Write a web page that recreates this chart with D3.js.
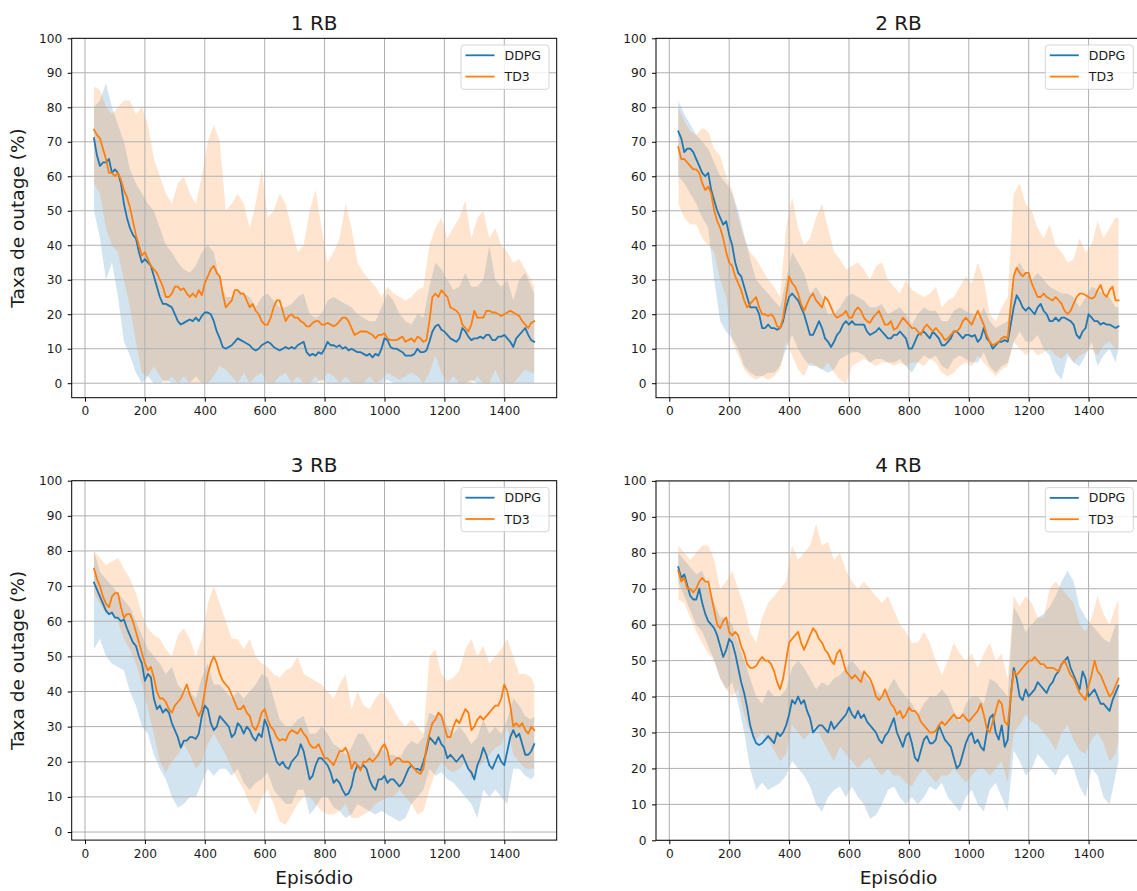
<!DOCTYPE html>
<html>
<head>
<meta charset="utf-8">
<script src="https://cdn.jsdelivr.net/npm/d3@7"></script>
<style>
  html, body { margin: 0; padding: 0; background: #ffffff; }
  svg { display: block; }
  text { font-family: "DejaVu Sans", sans-serif; fill: #1a1a1a; }
</style>
</head>
<body>
<svg id="chart" width="1137" height="891"></svg>
<script>
// ---- tick labels & series names ----
const xTicks = [0, 200, 400, 600, 800, 1000, 1200, 1400];
const yTicks = [0, 10, 20, 30, 40, 50, 60, 70, 80, 90, 100];
const seriesNames = ["DDPG", "TD3"];
const panelTitles = ["1 RB", "2 RB", "3 RB", "4 RB"];

// episodes of the smoothed curves (every 10) and of the spread bands (every 20)
const episodes = d3.range(30, 1501, 10);
const bandEpisodes = d3.range(30, 1500, 20).concat([1500]);

// ---- 1 RB ----
const rb1Ddpg = [
  71, 66, 63, 64, 64, 65, 61, 62, 61, 58,
  52, 48, 45, 43, 42, 38, 35, 36, 35, 34,
  31, 28, 25, 23, 23, 22.5, 22, 20, 18, 17,
  17.5, 18, 18.5, 18, 19, 18, 19.5, 20.5, 20.5, 20,
  18, 15, 13, 10.5, 10, 10.5, 11, 12, 13, 12.5,
  12, 11.5, 11, 10, 9.5, 10, 11, 11.5, 12, 11.5,
  10.5, 10, 9.5, 10, 10.5, 10, 10.5, 10, 11, 11.5,
  12, 9, 8, 8.5, 8, 9, 8.5, 10, 12, 11,
  11, 10.5, 11, 10, 10.5, 9.5, 10, 9.5, 9, 9,
  8.5, 8, 8.5, 7.5, 8.5, 8, 10, 13, 12.5, 10.5,
  10, 10, 9.5, 9, 8, 8, 8, 8.5, 10, 9,
  9, 9.5, 12, 15, 16.5, 17, 15.5, 15, 14, 13,
  12.5, 12, 13, 16, 15, 13.5, 12.5, 13, 13, 13.5,
  13, 14, 14, 12.5, 12.5, 13.5, 13.5, 14, 13, 12,
  10.5, 13, 14, 15, 16, 14, 12.5, 12
];
const rb1Td3 = [
  73.5, 72, 71, 68, 65, 61, 61, 60, 61, 59,
  56, 54, 51, 47, 43, 40, 37, 38, 36, 34,
  33, 32, 30, 28, 25, 25, 26, 28, 28, 27,
  27.5, 26, 25, 26, 25, 27, 25.5, 29, 31, 33,
  34, 32, 31, 26, 22, 23, 24, 27, 27, 26,
  26, 24, 22, 23, 21, 20, 18, 17, 17, 19,
  22, 24, 24, 21, 18, 19.5, 20, 19, 19, 18,
  17.5, 16.5, 16.5, 17.5, 18, 18, 17, 17, 17.5, 17,
  16.5, 17, 18, 19, 19, 18, 16, 14, 14.5, 15,
  15, 15, 14.5, 14, 13, 14, 14, 14.5, 13, 12.5,
  12.5, 12.5, 13, 13.5, 12, 12.5, 13, 12, 13.5, 13,
  12, 12.5, 18, 25, 26, 25, 27, 26, 25, 22,
  21.5, 21, 20, 17, 16, 15, 17, 21, 19, 19,
  19, 21, 21, 20.5, 20.5, 20, 19.5, 20, 20.5, 21,
  20.5, 20, 19.5, 18, 17, 16, 17.5, 18
];
const rb1DdpgHigh = [
  80, 82, 87, 80, 75, 70, 62, 58, 55, 52,
  50, 45, 40, 38, 35, 33, 32, 34, 38, 40,
  38, 30, 25, 25, 27, 26, 25, 22, 25, 26,
  24, 22, 22, 23, 25, 26, 20, 19, 20, 24,
  25, 24, 23, 22, 20, 19, 18, 18, 22, 26,
  24, 20, 18, 17, 20, 19, 28, 35, 33, 30,
  27, 28, 32, 28, 28, 30, 40, 30, 28, 30,
  24, 30, 32, 28, 26
];
const rb1DdpgLow = [
  50, 42, 30, 35, 25, 12, 8, 3, 0, 2,
  0, 0, 1, 0, 0, 0, 0, 2, 0, 0,
  0, 0, 0, 0, 0, 0, 0, 0, 0, 0,
  0, 0, 0, 0, 0, 0, 0, 0, 1, 0,
  0, 0, 0, 0, 0, 0, 0, 0, 0, 1,
  0, 0, 0, 0, 0, 0, 0, 0, 0, 0,
  0, 0, 0, 1, 0, 0, 0, 0, 0, 0,
  0, 0, 0, 0, 0
];
const rb1Td3High = [
  86, 85, 80, 78, 80, 82, 82, 78, 80, 75,
  65, 60, 55, 52, 58, 60, 55, 52, 60, 70,
  75, 70, 50, 52, 55, 52, 45, 52, 62, 48,
  50, 55, 52, 45, 38, 40, 50, 56, 45, 35,
  38, 42, 52, 45, 35, 32, 30, 28, 25, 28,
  26, 25, 24, 25, 27, 28, 40, 45, 48, 42,
  45, 48, 53, 42, 48, 50, 42, 45, 40, 38,
  35, 36, 33, 30, 28
];
const rb1Td3Low = [
  58, 55, 45, 40, 38, 30, 22, 12, 3, 2,
  5, 2, 0, 2, 0, 2, 0, 0, 0, 0,
  2, 5, 4, 2, 0, 3, 0, 2, 3, 0,
  0, 2, 3, 0, 2, 0, 0, 2, 0, 3,
  2, 0, 2, 0, 0, 0, 2, 0, 1, 3,
  2, 1, 2, 3, 2, 0, 3, 8, 3, 0,
  2, 0, 0, 0, 2, 0, 0, 4, 0, 0,
  0, 2, 4, 3, 3
];

// ---- 2 RB ----
const rb2Ddpg = [
  73, 71, 67, 68, 68, 67, 65, 63, 61, 60,
  61, 56, 53, 50, 48, 46, 47, 43, 40, 35,
  32, 31, 28, 25, 22, 22, 22, 20, 16, 16,
  17, 16, 16, 15.5, 16, 18, 22, 25, 26, 25,
  24, 22, 20, 17, 14, 14, 16, 18, 16, 13,
  12, 10.5, 12, 14, 15, 17, 18, 17, 18, 17,
  17, 17, 17, 15, 14, 14.5, 15, 16, 15, 14,
  13, 13, 14, 14, 15, 14, 13, 10, 10, 12,
  14, 14.5, 15, 14, 13, 15, 14, 13, 11, 11,
  12, 13, 15, 15, 14, 13, 14, 14, 13.5, 14,
  12, 13, 16, 13, 12, 10, 11, 12, 12, 12.5,
  12, 17, 22, 25.5, 24, 22, 21, 22, 21, 20,
  22, 23, 21, 20, 18, 18, 19, 18, 19, 19,
  18.5, 18, 17, 14, 13, 15, 16, 20, 19, 18,
  18, 17, 17.5, 17, 17, 16.5, 16, 16.5
];
const rb2Td3 = [
  68.5, 65, 65, 64, 63, 62, 62, 61, 58, 56,
  57, 55, 50, 47, 45, 42, 38, 35, 34, 31,
  29, 27, 24, 22, 23, 24, 25, 22, 20, 20,
  19.5, 20, 19, 16.5, 16, 19, 25, 31, 29, 28,
  26, 23, 21, 23, 25, 26, 24, 23, 22, 25,
  24, 22, 20, 19, 19.5, 20, 21, 19, 19, 21,
  22, 21, 19, 18, 17.5, 19, 20, 21, 19, 17,
  17, 18, 15.5, 16, 17.5, 19, 18, 17, 16, 16,
  15, 14, 16, 17, 16, 15, 16, 15, 14, 12.5,
  13, 14, 15, 15, 16, 18, 19, 18, 17, 19,
  21, 19, 17, 14, 12, 11, 11.5, 12, 13, 13.5,
  13, 22, 31, 33.5, 32, 31, 32, 32, 29, 27,
  25, 25, 26, 25, 24.5, 24, 25, 24, 23, 21,
  20, 21, 23, 25, 26, 26, 25.5, 25, 24.5, 25,
  27, 28.5, 26, 25, 27, 28, 24, 24
];
const rb2DdpgHigh = [
  82, 78, 75, 72, 70, 68, 64, 60, 58, 55,
  50, 43, 36, 30, 28, 26, 24, 22, 30, 38,
  35, 32, 26, 28, 25, 20, 20, 22, 25, 26,
  25, 24, 22, 22, 23, 20, 21, 22, 20, 17,
  20, 22, 21, 21, 18, 18, 21, 22, 21, 20,
  19, 22, 18, 16, 17, 18, 32, 35, 32, 30,
  32, 30, 28, 27, 26, 26, 25, 22, 25, 28,
  27, 26, 25, 22, 22
];
const rb2DdpgLow = [
  60, 58, 55, 52, 48, 45, 30, 18, 15, 13,
  10, 5, 3, 2, 2, 3, 3, 5, 10, 14,
  10, 7, 5, 5, 4, 3, 4, 7, 8, 9,
  9, 8, 6, 7, 7, 6, 6, 7, 5, 3,
  6, 8, 7, 8, 5, 4, 7, 8, 7, 6,
  6, 9, 5, 3, 5, 6, 12, 15, 12, 12,
  14, 10, 8, 3, 1, 8, 6, 5, 8, 12,
  5, 8, 10, 6, 10
];
const rb2Td3High = [
  80, 76, 73, 72, 74, 73, 68, 66, 60, 56,
  48, 42, 38, 36, 33, 30, 28, 25, 45, 54,
  45, 40, 42, 48, 52, 45, 38, 36, 33, 34,
  35, 33, 30, 34, 35, 30, 28, 26, 30, 27,
  26, 25, 26, 28, 22, 24, 25, 28, 31, 29,
  35, 30, 20, 18, 22, 25, 55, 58, 52, 50,
  45, 42, 46, 40, 38, 35, 36, 42, 38, 40,
  47, 42, 45, 48, 48
];
const rb2Td3Low = [
  52, 48, 46, 46, 42, 40, 38, 30, 25, 12,
  8, 4, 2, 1, 2, 1, 2, 4, 12, 8,
  4, 2, 6, 5, 4, 6, 3, 1, 0, 5,
  6, 7, 6, 5, 6, 6, 5, 6, 5, 6,
  6, 5, 7, 6, 3, 2, 3, 5, 6, 5,
  8, 6, 4, 2, 4, 5, 12, 10, 8, 10,
  8, 9, 10, 8, 7, 9, 6, 8, 9, 10,
  8, 11, 12, 10, 10
];

// ---- 3 RB ----
const rb3Ddpg = [
  71, 69, 67, 65, 63, 62, 62.5, 61, 61, 60,
  60.5, 58, 56, 54, 53, 50, 48, 43, 45, 44,
  38, 35, 36, 34, 35, 34, 31, 29, 27, 24,
  26, 26, 27, 27, 26.5, 28, 33, 36, 35, 31,
  29, 30, 33, 32, 31, 30, 27, 28, 31, 30,
  28, 30, 29, 27, 26, 28, 27, 32, 30, 26,
  23, 20, 19, 20, 18.5, 18, 20, 21, 22, 25,
  23, 19, 15, 16, 19, 21, 21, 20, 19, 17,
  14, 15, 14, 12, 10.5, 11, 13, 17, 19, 18,
  19, 18, 15, 13, 12, 15, 15, 16, 14, 15,
  15, 14, 13, 14, 16, 18, 19, 18, 18, 17.5,
  20, 23, 27, 26, 25, 27, 25, 24, 21, 22,
  21, 20, 21, 22, 20, 18, 17, 15, 19, 21,
  24, 22, 19, 18, 20, 22, 20, 19, 23, 27,
  29, 27, 28, 25, 22, 22, 23, 25
];
const rb3Td3 = [
  75, 72, 70, 67, 65, 64, 67, 68, 68, 64,
  61, 62, 62, 60, 57, 54, 51, 48, 46, 47,
  44, 40, 38, 38, 37, 35, 34, 36, 37, 38,
  40, 42, 39, 37, 35, 33, 35, 40, 45, 48,
  50, 48, 45, 43, 42, 41, 39, 37, 35, 35,
  36, 34, 33, 30, 29, 31, 34, 35, 32, 30,
  29, 27, 26, 26.5, 26, 28, 29, 28.5, 28, 29.5,
  28, 27, 25, 24, 24, 25, 23, 21, 21, 20,
  19, 21, 23, 23, 24, 22, 18, 20, 19, 17.5,
  20, 20, 21, 20, 21, 22, 24, 25, 23, 19,
  20, 21, 21, 20, 20, 20, 19, 18, 17, 16.5,
  18, 24, 28, 31, 32, 34, 33, 30, 27, 27,
  30, 32, 31, 33, 35, 34, 29, 30, 32, 33,
  32, 33, 34, 35, 36, 36, 38, 42, 40, 36,
  30, 31, 30, 31, 29, 28, 30, 29
];
const rb3DdpgHigh = [
  80, 74, 72, 70, 68, 66, 64, 60, 56, 52,
  50, 48, 45, 47, 42, 40, 40, 38, 44, 48,
  42, 42, 40, 38, 40, 38, 40, 42, 45, 44,
  38, 32, 30, 30, 32, 33, 28, 28, 30, 28,
  25, 24, 22, 24, 28, 28, 25, 22, 24, 22,
  22, 21, 24, 26, 25, 27, 34, 33, 34, 30,
  28, 30, 28, 25, 27, 32, 28, 30, 28, 32,
  38, 36, 33, 32, 33
];
const rb3DdpgLow = [
  52, 55, 50, 48, 47, 46, 40, 36, 30, 28,
  22, 18, 15, 10, 7, 8, 10, 10, 14, 18,
  16, 18, 18, 16, 18, 14, 12, 14, 15, 17,
  12, 10, 8, 8, 12, 12, 5, 7, 10, 10,
  7, 6, 4, 5, 8, 7, 6, 5, 6, 5,
  4, 3, 4, 8, 10, 12, 18, 16, 17, 15,
  14, 12, 10, 8, 4, 12, 10, 12, 10, 8,
  18, 18, 16, 15, 16
];
const rb3Td3High = [
  80, 78, 76, 77, 78, 75, 72, 68, 62, 58,
  56, 55, 52, 50, 56, 58, 55, 50, 55, 65,
  70, 65, 60, 55, 55, 52, 55, 50, 48, 47,
  45, 44, 46, 47, 50, 45, 44, 43, 42, 40,
  38, 42, 45, 35, 40, 36, 35, 38, 40, 38,
  35, 32, 30, 32, 30, 28, 50, 52, 45, 43,
  44, 46, 52, 55, 50, 53, 48, 50, 52, 55,
  50, 45, 45, 44, 42
];
const rb3Td3Low = [
  68, 65, 62, 62, 60, 55, 52, 48, 42, 35,
  28, 20, 17, 20, 22, 25, 22, 18, 20, 25,
  28, 25, 22, 18, 15, 12, 8, 5, 10, 12,
  8, 3, 2, 5, 8, 10, 10, 8, 6, 5,
  5, 6, 8, 4, 4, 5, 6, 8, 9, 10,
  10, 12, 10, 8, 5, 6, 12, 17, 20, 18,
  17, 18, 20, 15, 18, 20, 22, 24, 25, 30,
  22, 20, 18, 18, 18
];

// ---- 4 RB ----
const rb4Ddpg = [
  76, 73, 74, 71, 68, 67, 67, 70, 66, 63,
  61, 60, 59, 57, 54, 51, 53, 56, 55, 52,
  48, 44, 41, 37, 32, 29, 27, 26.5, 27, 28,
  29, 28, 27, 30, 29, 30, 32, 35, 39, 38,
  40, 38, 39, 36, 34, 30, 31, 32, 32, 31,
  30, 33, 31, 32, 33, 34, 35, 37, 35, 34,
  36, 34, 35, 33, 32, 31, 30, 28, 27, 29,
  30, 32, 34, 30, 28, 26, 29, 30, 27, 23,
  22, 25, 28, 29, 27, 27, 28, 32, 30, 28,
  27, 26, 23, 20, 21, 24, 27, 29, 30, 27,
  28, 26, 25, 30, 34, 35, 30, 28, 32, 26,
  28, 40, 48, 45, 40, 39, 42, 40, 41, 42,
  44, 43, 42, 41, 43, 44, 46, 47, 49, 50,
  51, 48, 46, 44, 42, 47, 45, 40, 41, 42,
  40, 38, 38, 37, 36, 39, 41, 43
];
const rb4Td3 = [
  75, 72, 73, 70, 70, 69, 70, 72, 73, 72,
  72, 68, 64, 60, 59, 61, 62, 58, 57, 58,
  57, 54, 52, 49, 48, 48, 48.5, 50, 51, 50,
  50, 49, 47, 44, 42, 45, 50, 55, 56, 57,
  58, 55, 53, 55, 57, 59, 58, 56, 55, 53,
  52, 50, 49, 52, 53, 50, 47, 46, 45, 46,
  45, 44, 47, 46, 45, 43, 40, 39, 40, 42,
  40, 38, 37, 35, 36, 34, 35, 37, 36, 36,
  35, 33, 32, 31, 30, 30, 30.5, 32, 33, 32,
  33, 34, 35, 34, 34, 35, 34, 33, 34, 35,
  36, 38, 35, 31, 30, 33, 36, 39, 38, 33,
  32, 40, 47, 46, 47, 48, 49, 50, 50, 51,
  50, 49, 49, 48, 48, 48, 47.5, 47, 49, 50,
  48, 46, 45, 43, 41, 40, 39, 43, 46, 50,
  47, 46, 44, 42, 40, 41, 43, 45
];
const rb4DdpgHigh = [
  80, 78, 76, 74, 75, 70, 66, 62, 62, 60,
  55, 50, 45, 40, 38, 42, 40, 40, 42, 48,
  50, 48, 45, 42, 44, 43, 45, 46, 48, 50,
  48, 46, 44, 42, 40, 42, 45, 42, 40, 38,
  35, 38, 40, 40, 42, 40, 36, 33, 38, 40,
  40, 38, 45, 44, 42, 40, 65, 62, 58, 60,
  62, 63, 65, 68, 72, 75, 72, 65, 62, 60,
  58, 56, 55, 60, 60
];
const rb4DdpgLow = [
  72, 68, 64, 60, 58, 54, 50, 45, 42, 44,
  38, 30, 20, 14, 16, 14, 15, 16, 18, 22,
  20, 18, 15, 10, 8, 12, 14, 15, 12, 15,
  12, 10, 6, 7, 10, 14, 15, 12, 10, 12,
  10, 12, 15, 14, 16, 12, 10, 8, 12, 14,
  10, 8, 14, 16, 12, 8, 25, 22, 18, 20,
  24, 22, 20, 18, 22, 24, 20, 15, 12, 20,
  18, 12, 10, 18, 22
];
const rb4Td3High = [
  82, 80, 78, 80, 82, 82, 78, 70, 72, 75,
  70, 65, 58, 55, 62, 66, 68, 70, 72, 82,
  78, 80, 82, 88, 82, 83, 78, 80, 75, 72,
  70, 72, 70, 68, 66, 68, 64, 60, 58, 55,
  55, 58, 55, 50, 46, 50, 55, 52, 50, 52,
  48, 52, 55, 50, 52, 45, 68, 65, 68, 66,
  62, 62, 70, 72, 70, 68, 66, 60, 58, 62,
  68, 63, 60, 65, 67
];
const rb4Td3Low = [
  67, 66, 62, 58, 55, 52, 50, 45, 42, 40,
  42, 35, 30, 28, 30, 28, 25, 22, 24, 32,
  30, 28, 30, 32, 28, 25, 22, 26, 24, 22,
  20, 22, 23, 20, 18, 20, 18, 18, 16, 15,
  18, 20, 18, 16, 18, 18, 20, 18, 16, 18,
  20, 20, 18, 20, 22, 16, 30, 32, 35, 33,
  32, 30, 28, 25, 30, 32, 28, 25, 24, 28,
  30, 27, 22, 24, 28
];

// ---- layout & styling ----
const colors = ["#1f77b4", "#ff7f0e"];
const plotW = 485, plotH = 359.4;
const xDomain = [-44.4, 1575];

const panels = [
  { title: panelTitles[0], left: 71.7, top: 38.3, yMin: -4.2, yLabel: true, xLabel: false,
    lines: [rb1Ddpg, rb1Td3], bands: [[rb1DdpgLow, rb1DdpgHigh], [rb1Td3Low, rb1Td3High]] },
  { title: panelTitles[1], left: 656, top: 38.3, yMin: -4.2, yLabel: false, xLabel: false,
    lines: [rb2Ddpg, rb2Td3], bands: [[rb2DdpgLow, rb2DdpgHigh], [rb2Td3Low, rb2Td3High]] },
  { title: panelTitles[2], left: 71.7, top: 480.7, yMin: -2.3, yLabel: true, xLabel: true,
    lines: [rb3Ddpg, rb3Td3], bands: [[rb3DdpgLow, rb3DdpgHigh], [rb3Td3Low, rb3Td3High]] },
  { title: panelTitles[3], left: 656, top: 480.9, yMin: 0, yLabel: false, xLabel: true,
    lines: [rb4Ddpg, rb4Td3], bands: [[rb4DdpgLow, rb4DdpgHigh], [rb4Td3Low, rb4Td3High]] }
];

const svg = d3.select("#chart");

panels.forEach((p, pi) => {
  const x = d3.scaleLinear().domain(xDomain).range([0, plotW]);
  const y = d3.scaleLinear().domain([p.yMin, 100]).range([plotH, 0]);

  const g = svg.append("g").attr("transform", `translate(${p.left},${p.top})`);

  const clipId = "clip" + pi;
  g.append("clipPath").attr("id", clipId)
    .append("rect").attr("width", plotW).attr("height", plotH);

  const plot = g.append("g").attr("clip-path", `url(#${clipId})`);

  // shaded spread bands
  p.bands.forEach((b, si) => {
    const rows = bandEpisodes.map((e, i) => ({ e, lo: b[0][i], hi: b[1][i] }));
    const area = d3.area()
      .x(d => x(d.e))
      .y0(d => y(d.lo))
      .y1(d => y(d.hi));
    plot.append("path")
      .datum(rows)
      .attr("d", area)
      .attr("fill", colors[si])
      .attr("fill-opacity", 0.2)
      .attr("stroke", "none");
  });

  // grid
  const grid = plot.append("g");
  grid.selectAll("line.gx").data(xTicks).join("line")
    .attr("x1", d => x(d)).attr("x2", d => x(d))
    .attr("y1", 0).attr("y2", plotH)
    .attr("stroke", "#b0b0b0").attr("stroke-width", 1);
  grid.selectAll("line.gy").data(yTicks).join("line")
    .attr("y1", d => y(d)).attr("y2", d => y(d))
    .attr("x1", 0).attr("x2", plotW)
    .attr("stroke", "#b0b0b0").attr("stroke-width", 1);

  // smoothed curves
  p.lines.forEach((vals, si) => {
    const rows = episodes.map((e, i) => ({ e, v: vals[i] }));
    const line = d3.line().x(d => x(d.e)).y(d => y(d.v));
    plot.append("path")
      .datum(rows)
      .attr("d", line)
      .attr("fill", "none")
      .attr("stroke", colors[si])
      .attr("stroke-width", 1.8)
      .attr("stroke-linejoin", "round")
      .attr("stroke-linecap", "square");
  });

  // axes
  const xAxis = d3.axisBottom(x).tickValues(xTicks).tickSize(4).tickPadding(5).tickFormat(d3.format("d"));
  const yAxis = d3.axisLeft(y).tickValues(yTicks).tickSize(4).tickPadding(5.5).tickFormat(d3.format("d"));

  const gx = g.append("g").attr("transform", `translate(0,${plotH})`).call(xAxis);
  const gy = g.append("g").call(yAxis);
  [gx, gy].forEach(ax => {
    ax.select(".domain").remove();
    ax.selectAll(".tick line").attr("stroke", "#000").attr("stroke-width", 1);
    ax.selectAll(".tick text")
      .attr("font-family", "DejaVu Sans")
      .attr("font-size", 12.2)
      .attr("fill", "#1a1a1a");
  });

  // spines
  g.append("rect")
    .attr("x", 0).attr("y", 0).attr("width", plotW).attr("height", plotH)
    .attr("fill", "none").attr("stroke", "#000").attr("stroke-width", 1);

  // title
  g.append("text")
    .attr("x", plotW / 2).attr("y", -8.8)
    .attr("text-anchor", "middle")
    .attr("font-size", 20)
    .text(p.title);

  // axis labels
  if (p.yLabel) {
    g.append("text")
      .attr("transform", `translate(${24 - p.left},${plotH / 2}) rotate(-90)`)
      .attr("text-anchor", "middle")
      .attr("font-size", 18.5)
      .text("Taxa de outage (%)");
  }
  if (p.xLabel) {
    g.append("text")
      .attr("x", plotW / 2).attr("y", 884 - p.top)
      .attr("text-anchor", "middle")
      .attr("font-size", 18.5)
      .text("Episódio");
  }

  // legend
  const lw = 88, lh = 44.3;
  const lg = g.append("g").attr("transform", `translate(${plotW - 7.7 - lw},6.7)`);
  lg.append("rect")
    .attr("width", lw).attr("height", lh).attr("rx", 3).attr("ry", 3)
    .attr("fill", "#ffffff").attr("fill-opacity", 0.8)
    .attr("stroke", "#cccccc").attr("stroke-opacity", 0.8).attr("stroke-width", 1);
  seriesNames.forEach((name, si) => {
    const ly = 10.3 + si * 21.3;
    lg.append("line")
      .attr("x1", 4.5).attr("x2", 33.5).attr("y1", ly).attr("y2", ly)
      .attr("stroke", colors[si]).attr("stroke-width", 1.8);
    lg.append("text")
      .attr("x", 43.5).attr("y", ly + 4.6)
      .attr("font-size", 12.5)
      .text(name);
  });
});
</script>
</body>
</html>
